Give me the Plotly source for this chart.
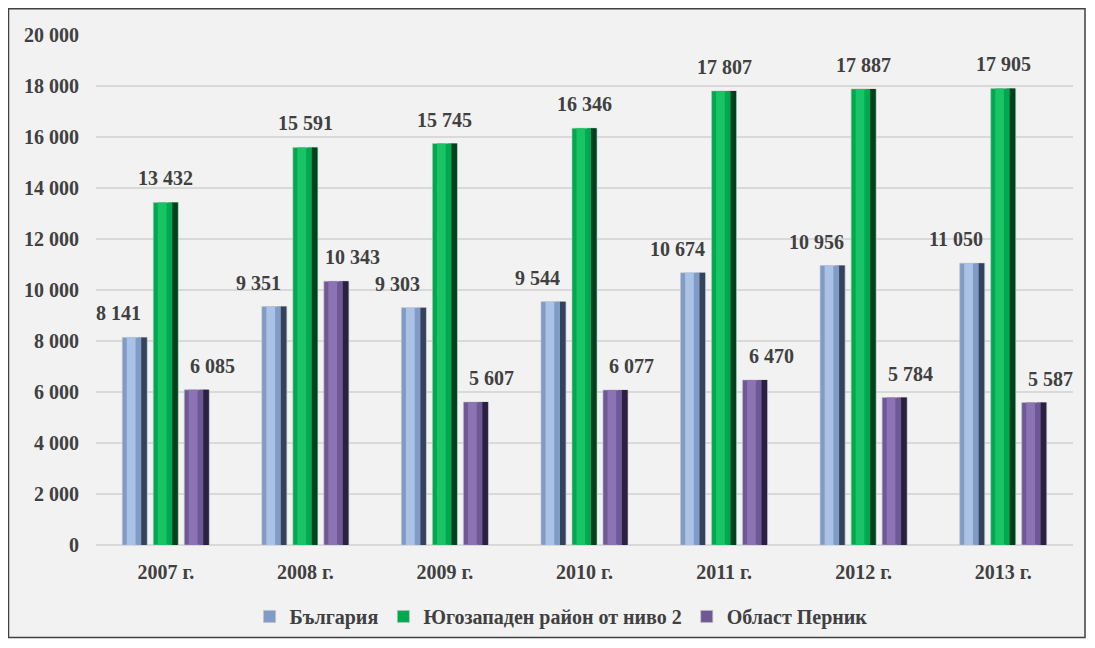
import plotly.graph_objects as go

years = ["2007 г.", "2008 г.", "2009 г.", "2010 г.", "2011 г.", "2012 г.", "2013 г."]
bulgaria = [8141, 9351, 9303, 9544, 10674, 10956, 11050]
southwest = [13432, 15591, 15745, 16346, 17807, 17887, 17905]
pernik = [6085, 10343, 5607, 6077, 6470, 5784, 5587]
series_names = ["България", "Югозападен район от ниво 2", "Област Перник"]
y_ticks = list(range(0, 20001, 2000))
y_ticktext = [f"{v:,}".replace(",", " ") for v in y_ticks]

FONT = "Liberation Serif, Times New Roman, serif"
TXT = "#404040"

def fmt(v):
    return f"{v:,}".replace(",", " ")

series = [bulgaria, southwest, pernik]
# (base, light, dark)
palette = [
    ("#7f9bc6", "#a9c2e6", "#34425a"),
    ("#00a84f", "#19c466", "#00401e"),
    ("#6f5896", "#8c74b4", "#2a2040"),
]
W = 0.179
offsets = [-0.3116, -0.0895, 0.1325]
label_shift = [-47, 0, 47]

fig = go.Figure()
for i, (vals, name) in enumerate(zip(series, series_names)):
    base, light, dark = palette[i]
    o = offsets[i]
    fig.add_trace(go.Bar(x=years, y=vals, name=name, width=W, offset=o,
                         marker=dict(color=base, line=dict(color="#bfbfbf", width=0.6)),
                         showlegend=True))
    fig.add_trace(go.Bar(x=years, y=vals, width=W * 0.35, offset=o + W * 0.18,
                         marker=dict(color=light, line=dict(width=0)), showlegend=False,
                         hoverinfo="skip"))
    fig.add_trace(go.Bar(x=years, y=vals, width=W * 0.2, offset=o + W * 0.6,
                         marker=dict(color=base, line=dict(width=0)), showlegend=False,
                         hoverinfo="skip"))
    fig.add_trace(go.Bar(x=years, y=vals, width=W * 0.22, offset=o + W * 0.76,
                         marker=dict(color=dark, line=dict(width=0)), showlegend=False,
                         hoverinfo="skip"))
    for yr, v in zip(years, vals):
        fig.add_annotation(x=yr, y=v, text=fmt(v), showarrow=False, xshift=label_shift[i],
                           yshift=11, yanchor="bottom", xanchor="center",
                           font=dict(family=FONT, size=20, color=TXT, weight="bold"))

# page body has an 8px default margin, so the figure is offset by 8px
fig.update_layout(
    width=1087, height=640,
    margin=dict(l=88, r=22, t=27, b=100),
    barmode="overlay",
    paper_bgcolor="white",
    plot_bgcolor="rgba(0,0,0,0)",
    font=dict(family=FONT, size=20, color=TXT, weight="bold"),
    legend=dict(orientation="h", x=0.476, xanchor="center", y=-0.14, yanchor="middle",
                font=dict(family=FONT, size=20, color=TXT, weight="bold"),
                itemwidth=30, bgcolor="rgba(0,0,0,0)"),
    xaxis=dict(type="category", showgrid=False, showline=False, ticks="",
               tickfont=dict(family=FONT, size=20, color=TXT, weight="bold"),
               ticklabelstandoff=13, range=[-0.5, 6.5]),
    yaxis=dict(range=[0, 20000], tickvals=y_ticks, ticktext=y_ticktext,
               showgrid=True, gridcolor="#d9d9d9", gridwidth=2, zeroline=True,
               zerolinecolor="#d9d9d9", zerolinewidth=2,
               tickfont=dict(family=FONT, size=20, color=TXT, weight="bold"),
               ticklabelstandoff=16),
    showlegend=True,
)
fig.add_shape(type="rect", xref="paper", yref="paper",
              x0=(0.5 - 88) / 977, x1=(1077 - 88) / 977,
              y0=-(633 - 540) / 513, y1=1 + (27 - 0.5) / 513,
              fillcolor="#f2f2f2", line=dict(color="#404040", width=1.5), layer="below")

fig.write_html("out.html")
